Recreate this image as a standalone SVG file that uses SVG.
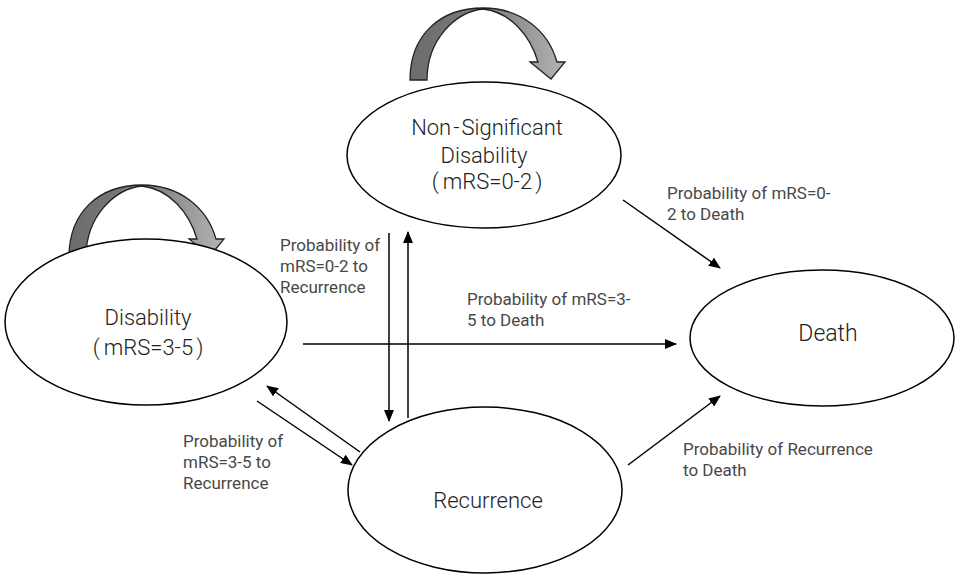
<svg xmlns="http://www.w3.org/2000/svg" width="959" height="575" viewBox="0 0 959 575">
<style>
.node{fill:#fff;stroke:#000;stroke-width:1.5}
.nt{font-family:Roboto,"Noto Sans",sans-serif;font-size:22px;font-weight:300;fill:#222;text-anchor:middle}
.lb{font-family:Roboto,"Noto Sans",sans-serif;font-size:17px;font-weight:400;fill:#484848}
.cn{stroke:#000;stroke-width:1.5;fill:none;marker-end:url(#ah)}
.loop{stroke:#222;stroke-width:1.3;fill:url(#g)}
</style>
<defs>
<marker id="ah" markerWidth="12" markerHeight="10" refX="11" refY="5" orient="auto" markerUnits="userSpaceOnUse">
<path d="M0,0 L12,5 L0,10 Z" fill="#000"/>
</marker>
<linearGradient id="g" x1="0" y1="0" x2="1" y2="0">
<stop offset="0" stop-color="#6c6c6c"/>
<stop offset="0.5" stop-color="#7c7c7c"/>
<stop offset="1" stop-color="#b4b4b4"/>
</linearGradient>
<path id="loopPath" d="M410,80 C410,35 440,8 483,8 C520,8 548,30 557,62 L565,62 L551,79 L530,62 L538,62 C530,35 510,12 483,9 C455,12 427,40 427,80 Z"/>
</defs>
<rect width="959" height="575" fill="#fff"/>
<g id="self-loops">
<use href="#loopPath" class="loop"/>
<use href="#loopPath" class="loop" transform="translate(-341,177)"/>
</g>
<g id="connectors">
<line class="cn" x1="389" y1="233" x2="389" y2="421"/>
<line class="cn" x1="408" y1="418" x2="408" y2="232"/>
<line class="cn" x1="303" y1="344" x2="676" y2="344"/>
<line class="cn" x1="360" y1="452" x2="267" y2="386"/>
<line class="cn" x1="257" y1="401" x2="352" y2="465"/>
<line class="cn" x1="623" y1="200" x2="720" y2="268"/>
<line class="cn" x1="628" y1="465" x2="720" y2="396"/>
</g>
<g id="nsd">
<ellipse class="node" cx="484" cy="155" rx="137" ry="73"/>
<text class="nt" x="487" y="135">Non<tspan dx="2">-</tspan><tspan dx="2">Significant</tspan></text>
<text class="nt" x="484" y="163">Disability</text>
<text class="nt" x="487" y="189">(<tspan dx="4">mRS=0-2</tspan><tspan dx="3">)</tspan></text>
</g>
<g id="disability">
<ellipse class="node" cx="146" cy="322" rx="141" ry="83"/>
<text class="nt" x="148" y="325">Disability</text>
<text class="nt" x="148" y="355">(<tspan dx="4">mRS=3-5</tspan><tspan dx="3">)</tspan></text>
</g>
<g id="death">
<ellipse class="node" cx="822" cy="338" rx="132" ry="68"/>
<text class="nt" x="828" y="341" style="font-size:23px">Death</text>
</g>
<g id="recurrence">
<ellipse class="node" cx="485" cy="490" rx="137" ry="83"/>
<text class="nt" x="488" y="508">Recurrence</text>
</g>
<g id="labels">
<text class="lb" x="667" y="199">Probability of mRS=0-</text>
<text class="lb" x="667" y="220">2 to Death</text>
<text class="lb" x="280" y="251">Probability of</text>
<text class="lb" x="280" y="272">mRS=0-2 to</text>
<text class="lb" x="280" y="293">Recurrence</text>
<text class="lb" x="467" y="305">Probability of mRS=3-</text>
<text class="lb" x="467" y="326">5 to Death</text>
<text class="lb" x="183" y="447">Probability of</text>
<text class="lb" x="183" y="468">mRS=3-5 to</text>
<text class="lb" x="183" y="489">Recurrence</text>
<text class="lb" x="683" y="455">Probability of Recurrence</text>
<text class="lb" x="683" y="476">to Death</text>
</g>
</svg>
